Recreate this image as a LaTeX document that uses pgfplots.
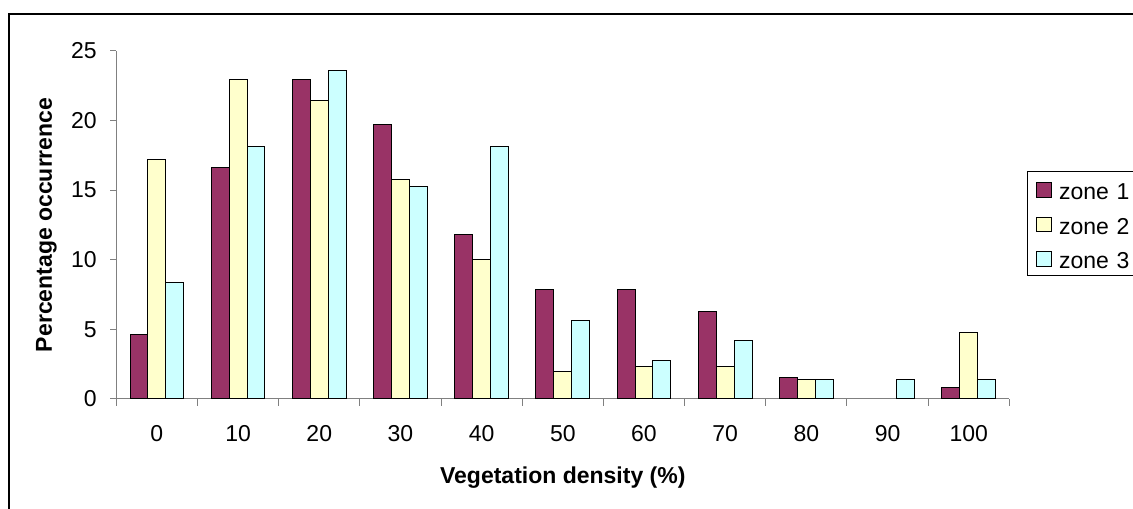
\documentclass[border=0pt]{standalone}
\usepackage{pgfplots}
\pgfplotsset{compat=1.18}
\usepackage{fontspec}
\setmainfont{Liberation Sans}

\definecolor{zoneone}{HTML}{993366}
\definecolor{zonetwo}{HTML}{FFFFCC}
\definecolor{zonethree}{HTML}{CCFFFF}
\definecolor{axisgray}{HTML}{808080}

\begin{document}
\begin{tikzpicture}[x=1bp,y=1bp,font=\fontsize{23bp}{27bp}\selectfont]
\useasboundingbox (0,0) rectangle (1133,509);
% chart area frame (continues past the right and bottom edges)
\draw[line width=2bp] (8.7,-10) -- (8.7,495.3) -- (1150,495.3);
\begin{axis}[
  at={(116.3bp,110bp)}, anchor=south west,
  scale only axis, width=893bp, height=348.3bp,
  xmin=-0.5, xmax=10.5, ymin=0, ymax=25,
  axis x line=bottom, axis y line=left,
  axis line style={-, axisgray, line width=1bp},
  /pgf/number format/assume math mode=true,
  ybar=0pt, bar width=17.9bp,
  xtick={0,...,10},
  xticklabels={0,10,20,30,40,50,60,70,80,90,100},
  major x tick style={draw=none},
  minor xtick={-0.5,0.5,...,10.5},
  minor x tick style={axisgray, line width=1bp},
  ytick={0,5,...,25},
  major y tick style={axisgray, line width=1bp},
  tick align=outside,
  major tick length=6bp, minor tick length=7bp,
  xticklabel style={anchor=center, yshift=-29bp},
  yticklabel style={anchor=east, xshift=-10bp},
  xlabel={\bfseries Vegetation density (\%)},
  ylabel={\bfseries Percentage occurrence},
  xlabel style={at={(axis description cs:0.5,0)}, anchor=center, yshift=-79bp},
  ylabel style={at={(axis description cs:0,0.5)}, anchor=center, yshift=70bp},
  legend cell align=left,
  legend image code/.code={\draw[#1, line width=1bp] (0bp,-8.5bp) rectangle (15bp,6bp);},
  legend style={
    at={(rel axis cs:1.0198,0.6555)}, anchor=north west,
    draw=black, line width=0.8bp, fill=white,
    inner xsep=8.7bp, inner ysep=5bp, row sep=9.3bp,
    /tikz/column sep=7bp,
    nodes={inner sep=0pt, text height=23.5bp, text depth=1.7bp, text width=90bp, align=left},
  },
  every axis plot/.append style={draw=black, line width=1bp},
]
\addplot[fill=zoneone] coordinates {
  (0,4.66) (1,16.6) (2,22.9) (3,19.7) (4,11.8) (5,7.87)
  (6,7.87) (7,6.3) (8,1.53) (10,0.81)};
\addplot[fill=zonetwo] coordinates {
  (0,17.2) (1,22.9) (2,21.46) (3,15.77) (4,9.98) (5,1.94)
  (6,2.34) (7,2.34) (8,1.41) (10,4.76)};
\addplot[fill=zonethree] coordinates {
  (0,8.35) (1,18.1) (2,23.6) (3,15.26) (4,18.1) (5,5.6)
  (6,2.75) (7,4.19) (8,1.41) (9,1.41) (10,1.41)};
\legend{zone 1, zone 2, zone 3}
\end{axis}
\end{tikzpicture}
\end{document}
